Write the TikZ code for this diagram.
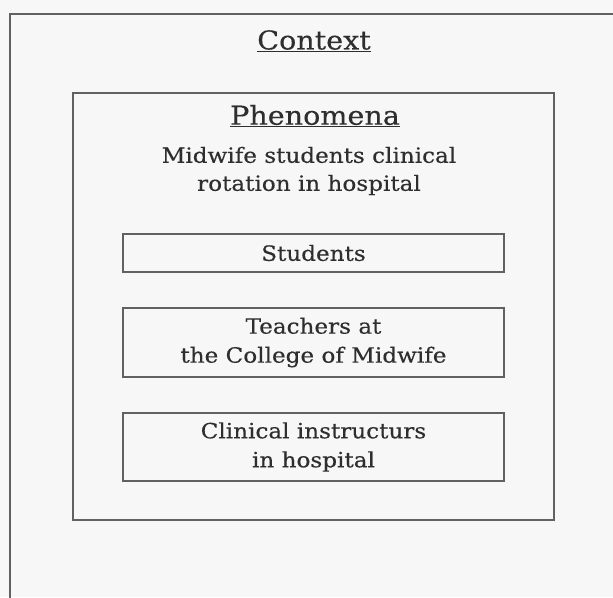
\documentclass[tikz,border=0pt]{standalone}
\usepackage{fontspec}
\setmainfont{DejaVu Serif}[FakeStretch=1.1,FakeBold=0.3]
\begin{document}
\begin{tikzpicture}[x=1pt,y=-1pt,
  frame/.style={draw=black!62, line width=1.7pt},
  box/.style={frame, minimum width=381pt, align=center, inner sep=0pt,
    font=\fontsize{21}{29}\selectfont, text=black!82},
  title/.style={inner sep=0pt, font=\fontsize{26}{30}\selectfont, text=black!82},
  body/.style={inner sep=0pt, align=center, font=\fontsize{21}{28}\selectfont, text=black!82}]
\useasboundingbox (0,0) rectangle (613,597);
\fill[black!3] (0,0) rectangle (613,597);
\draw[frame] (10,14) rectangle (630,615);
\draw[frame] (73,93) rectangle (554,520);
\node[title] (context) at (314,41) {\underline{Context}};
\node[title] (phen) at (315,116) {\underline{Phenomena}};
\node[body] (desc) at (309,171) {Midwife students clinical\\rotation in hospital};
\node[box, minimum height=38pt] (students) at (313.5,253) {Students};
\node[box, minimum height=69pt] (teachers) at (313.5,342.5) {Teachers at\\the College of Midwife};
\node[box, minimum height=68pt] (clinical) at (313.5,447) {Clinical instructurs\\in hospital};
\end{tikzpicture}
\end{document}
